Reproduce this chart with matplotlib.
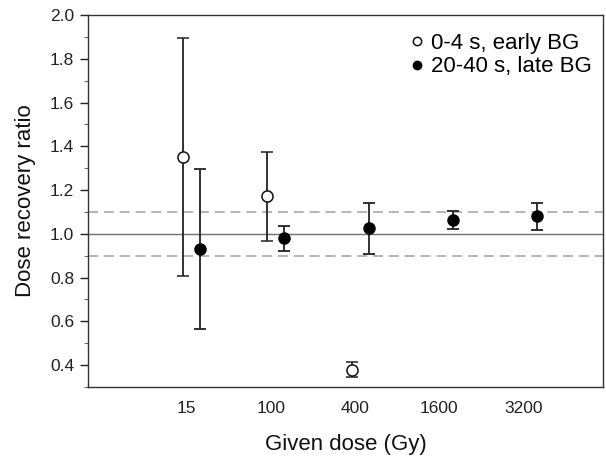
import matplotlib
matplotlib.use('Agg')
import matplotlib.pyplot as plt
import numpy as np
from matplotlib.ticker import MultipleLocator, FormatStrFormatter
from matplotlib.lines import Line2D

plt.rcParams['font.family'] = ['Liberation Sans', 'DejaVu Sans']

doses = ['15', '100', '400', '1600', '3200']

# 0-4 s, early BG (open circles); only first three doses
early_y = [1.351, 1.174, 0.378]
early_lo = [0.808, 0.968, 0.347]
early_hi = [1.895, 1.375, 0.413]

# 20-40 s, late BG (filled circles)
late_y = [0.930, 0.979, 1.025, 1.063, 1.081]
late_lo = [0.565, 0.923, 0.906, 1.021, 1.017]
late_hi = [1.296, 1.037, 1.142, 1.104, 1.139]

ref_line = 1.0
ref_band = [0.9, 1.1]

fig = plt.figure(figsize=(6.06, 4.69), dpi=100)
ax = fig.add_axes([0.1452, 0.1748, 0.8498, 0.7932])

x = np.arange(len(doses))
off = 0.1

ax.axhline(ref_line, color='#707070', linewidth=1.0, zorder=1)
for r in ref_band:
    ax.axhline(r, color='#a8a8a8', linewidth=1.2, linestyle=(0, (6, 3.5)), zorder=1)

xe = x[:len(early_y)] - off
ey = np.array(early_y)
ax.errorbar(xe, ey, yerr=[ey - np.array(early_lo), np.array(early_hi) - ey],
            fmt='o', mfc='white', mec='#111111', mew=1.1, ms=8, color='#222222',
            ecolor='#222222', elinewidth=1.3, capsize=4.5, capthick=1.3, zorder=3)

ly = np.array(late_y)
ax.errorbar(x + off, ly, yerr=[ly - np.array(late_lo), np.array(late_hi) - ly],
            fmt='o', mfc='black', mec='black', ms=8, color='#222222',
            ecolor='#222222', elinewidth=1.3, capsize=4.5, capthick=1.3, zorder=3)

ax.set_xlim(-1.228, 4.88)
ax.set_ylim(0.3, 2.0)
ax.set_xticks(x - 0.06)
ax.set_xticklabels(doses)
ax.tick_params(axis='x', length=0, pad=10, labelsize=12.5, colors='#222222')
ax.set_yticks(np.arange(0.4, 2.01, 0.2))
ax.yaxis.set_minor_locator(MultipleLocator(0.1))
ax.yaxis.set_major_formatter(FormatStrFormatter('%.1f'))
ax.tick_params(axis='y', which='major', length=6, width=1, pad=4, labelsize=12.5, colors='#222222')
ax.tick_params(axis='y', which='minor', length=3, width=0.8, color='#666666')

for s in ax.spines.values():
    s.set_color('#333333')
    s.set_linewidth(1.0)

ax.set_xlabel('Given dose (Gy)', fontsize=16, labelpad=13, color='#111111')
ax.set_ylabel('Dose recovery ratio', fontsize=16, labelpad=10, color='#111111')

handles = [
    Line2D([], [], linestyle='none', marker='o', mfc='white', mec='#111111', mew=1.1, ms=6),
    Line2D([], [], linestyle='none', marker='o', mfc='black', mec='black', ms=6),
]
ax.legend(handles, ['0-4 s, early BG', '20-40 s, late BG'], loc='upper right',
          bbox_to_anchor=(1.017, 1.005), frameon=False, fontsize=16,
          handletextpad=0.15, handlelength=1.0, labelspacing=0.1)

fig.savefig('out.png', dpi=100)
